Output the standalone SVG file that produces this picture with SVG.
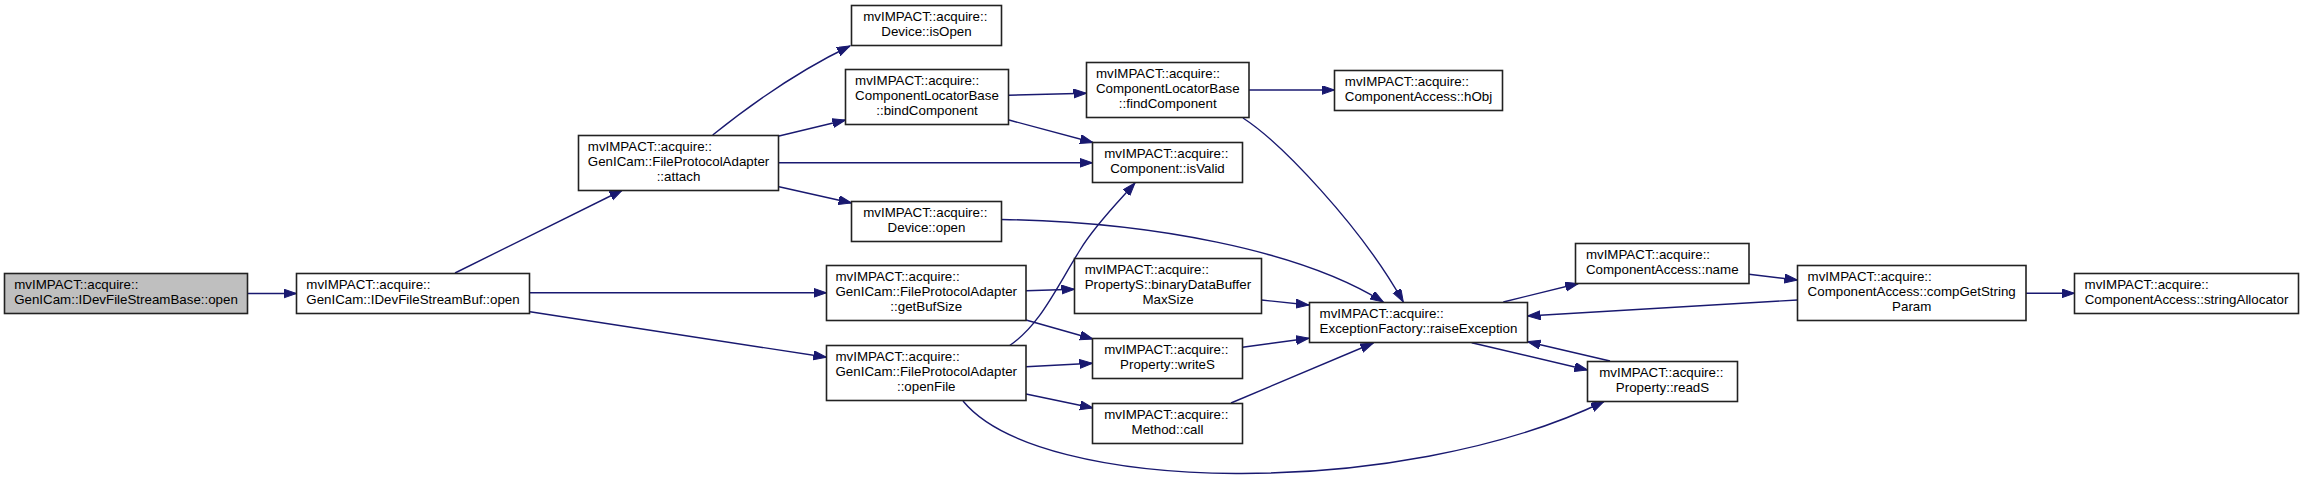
<svg xmlns="http://www.w3.org/2000/svg" width="2304" height="481" viewBox="0 0 2304 481">
<defs>
<style>
.n rect{fill:#fff;stroke:#222;stroke-width:1.6}
.n.root rect{fill:#bfbfbf}
text{font-family:"Liberation Sans",Arial,Helvetica,sans-serif;font-size:13.33px;fill:#000}
.m{text-anchor:middle}
.e path{fill:none;stroke:#191970;stroke-width:1.4}
</style>
<marker id="ah" markerUnits="userSpaceOnUse" markerWidth="14" markerHeight="10" refX="13" refY="4.5" orient="auto">
<path d="M0,0 L13,4.5 L0,9 z" fill="#191970" stroke="#191970" stroke-width="1"/>
</marker>
</defs>
<rect width="2304" height="481" fill="#fff"/>
<g class="e">
<path marker-end="url(#ah)" d="M248,293.5 L296.5,293.5"/>
<path marker-end="url(#ah)" d="M455,273 L622.5,190"/>
<path marker-end="url(#ah)" d="M530,292.8 L826.5,292.8"/>
<path marker-end="url(#ah)" d="M530,311.7 L826.5,357.3"/>
<path marker-end="url(#ah)" d="M712.7,135 C750,105 800,70 850,46"/>
<path marker-end="url(#ah)" d="M779,136 L845.5,120"/>
<path marker-end="url(#ah)" d="M778.5,162.8 L1092.5,162.8"/>
<path marker-end="url(#ah)" d="M779,186.7 L851.5,203"/>
<path marker-end="url(#ah)" d="M1008.5,95.2 L1086.5,93.2"/>
<path marker-end="url(#ah)" d="M1009,120 L1093,142.5"/>
<path marker-end="url(#ah)" d="M1249,90 L1334.5,90"/>
<path marker-end="url(#ah)" d="M1243,118 C1280,142 1360,225 1403.3,302"/>
<path marker-end="url(#ah)" d="M1001.5,219.5 C1150,222 1300,250 1383.3,302"/>
<path marker-end="url(#ah)" d="M1009,346 C1040,325 1055,290 1080,250 C1095,225 1120,200 1135,183"/>
<path marker-end="url(#ah)" d="M1026,290.7 L1074.5,289.2"/>
<path marker-end="url(#ah)" d="M1026,320 L1093,339"/>
<path marker-end="url(#ah)" d="M1026,366.7 L1092.5,363.3"/>
<path marker-end="url(#ah)" d="M1026,394 L1093,408"/>
<path marker-end="url(#ah)" d="M963,401 C1040,495 1400,500 1604,401.5"/>
<path marker-end="url(#ah)" d="M1261.5,300 L1309,305"/>
<path marker-end="url(#ah)" d="M1242.5,347.3 L1309,338.3"/>
<path marker-end="url(#ah)" d="M1231,403 L1373.3,343"/>
<path marker-end="url(#ah)" d="M1503.3,302 L1578.3,283.5"/>
<path marker-end="url(#ah)" d="M1471.7,342.7 L1587.5,370"/>
<path marker-end="url(#ah)" d="M1797.5,300 L1527.5,316"/>
<path marker-end="url(#ah)" d="M1610,361 L1527.5,341.7"/>
<path marker-end="url(#ah)" d="M1749,274.3 L1797.5,280"/>
<path marker-end="url(#ah)" d="M2026,293.3 L2074.5,293.3"/>
</g>
<g id="node_A" class="n root"><rect x="4.5" y="273.5" width="243" height="40"/><text x="14.2" y="288.5">mvIMPACT::acquire::</text><text class="m" x="126" y="303.5">GenICam::IDevFileStreamBase::open</text></g>
<g id="node_B" class="n"><rect x="296.5" y="273.5" width="233" height="40"/><text x="306.3" y="288.5">mvIMPACT::acquire::</text><text class="m" x="413" y="303.5">GenICam::IDevFileStreamBuf::open</text></g>
<g id="node_attach" class="n"><rect x="578.5" y="135.5" width="200" height="55"/><text x="587.8" y="150.5">mvIMPACT::acquire::</text><text x="587.8" y="165.5">GenICam::FileProtocolAdapter</text><text class="m" x="678.5" y="180.5">::attach</text></g>
<g id="node_isOpen" class="n"><rect x="851.5" y="5.5" width="150" height="40"/><text x="863.2" y="20.5">mvIMPACT::acquire::</text><text class="m" x="926.5" y="35.5">Device::isOpen</text></g>
<g id="node_bindComponent" class="n"><rect x="845.5" y="69.5" width="163" height="55"/><text x="855.1" y="84.5">mvIMPACT::acquire::</text><text x="855.1" y="99.5">ComponentLocatorBase</text><text class="m" x="927" y="114.5">::bindComponent</text></g>
<g id="node_findComponent" class="n"><rect x="1086.5" y="62.5" width="162.5" height="55"/><text x="1095.9" y="77.5">mvIMPACT::acquire::</text><text x="1095.9" y="92.5">ComponentLocatorBase</text><text class="m" x="1167.75" y="107.5">::findComponent</text></g>
<g id="node_hObj" class="n"><rect x="1334.5" y="70.5" width="168" height="40"/><text x="1344.8" y="85.5">mvIMPACT::acquire::</text><text class="m" x="1418.5" y="100.5">ComponentAccess::hObj</text></g>
<g id="node_isValid" class="n"><rect x="1092.5" y="142.5" width="150" height="40"/><text x="1104.2" y="157.5">mvIMPACT::acquire::</text><text class="m" x="1167.5" y="172.5">Component::isValid</text></g>
<g id="node_deviceOpen" class="n"><rect x="851.5" y="201.5" width="150" height="40"/><text x="863.2" y="216.5">mvIMPACT::acquire::</text><text class="m" x="926.5" y="231.5">Device::open</text></g>
<g id="node_getBufSize" class="n"><rect x="826.5" y="265.5" width="199.5" height="55"/><text x="835.5" y="280.5">mvIMPACT::acquire::</text><text x="835.5" y="295.5">GenICam::FileProtocolAdapter</text><text class="m" x="926.25" y="310.5">::getBufSize</text></g>
<g id="node_openFile" class="n"><rect x="826.5" y="345.5" width="199.5" height="55"/><text x="835.5" y="360.5">mvIMPACT::acquire::</text><text x="835.5" y="375.5">GenICam::FileProtocolAdapter</text><text class="m" x="926.25" y="390.5">::openFile</text></g>
<g id="node_binaryDataBufferMaxSize" class="n"><rect x="1074.5" y="258.5" width="187" height="55"/><text x="1084.7" y="273.5">mvIMPACT::acquire::</text><text x="1084.7" y="288.5">PropertyS::binaryDataBuffer</text><text class="m" x="1168" y="303.5">MaxSize</text></g>
<g id="node_writeS" class="n"><rect x="1092.5" y="338.5" width="150" height="40"/><text x="1104.2" y="353.5">mvIMPACT::acquire::</text><text class="m" x="1167.5" y="368.5">Property::writeS</text></g>
<g id="node_call" class="n"><rect x="1092.5" y="403.5" width="150" height="40"/><text x="1104.2" y="418.5">mvIMPACT::acquire::</text><text class="m" x="1167.5" y="433.5">Method::call</text></g>
<g id="node_raiseException" class="n"><rect x="1309.5" y="302.5" width="218" height="40"/><text x="1319.6" y="317.5">mvIMPACT::acquire::</text><text class="m" x="1418.5" y="332.5">ExceptionFactory::raiseException</text></g>
<g id="node_name" class="n"><rect x="1575.5" y="243.5" width="173.5" height="40"/><text x="1585.9" y="258.5">mvIMPACT::acquire::</text><text class="m" x="1662.25" y="273.5">ComponentAccess::name</text></g>
<g id="node_compGetStringParam" class="n"><rect x="1797.5" y="265.5" width="228.5" height="55"/><text x="1807.6" y="280.5">mvIMPACT::acquire::</text><text x="1807.6" y="295.5">ComponentAccess::compGetString</text><text class="m" x="1911.75" y="310.5">Param</text></g>
<g id="node_stringAllocator" class="n"><rect x="2074.5" y="273.5" width="224" height="40"/><text x="2084.6" y="288.5">mvIMPACT::acquire::</text><text class="m" x="2186.5" y="303.5">ComponentAccess::stringAllocator</text></g>
<g id="node_readS" class="n"><rect x="1587.5" y="361.5" width="150" height="40"/><text x="1599.2" y="376.5">mvIMPACT::acquire::</text><text class="m" x="1662.5" y="391.5">Property::readS</text></g>
</svg>
